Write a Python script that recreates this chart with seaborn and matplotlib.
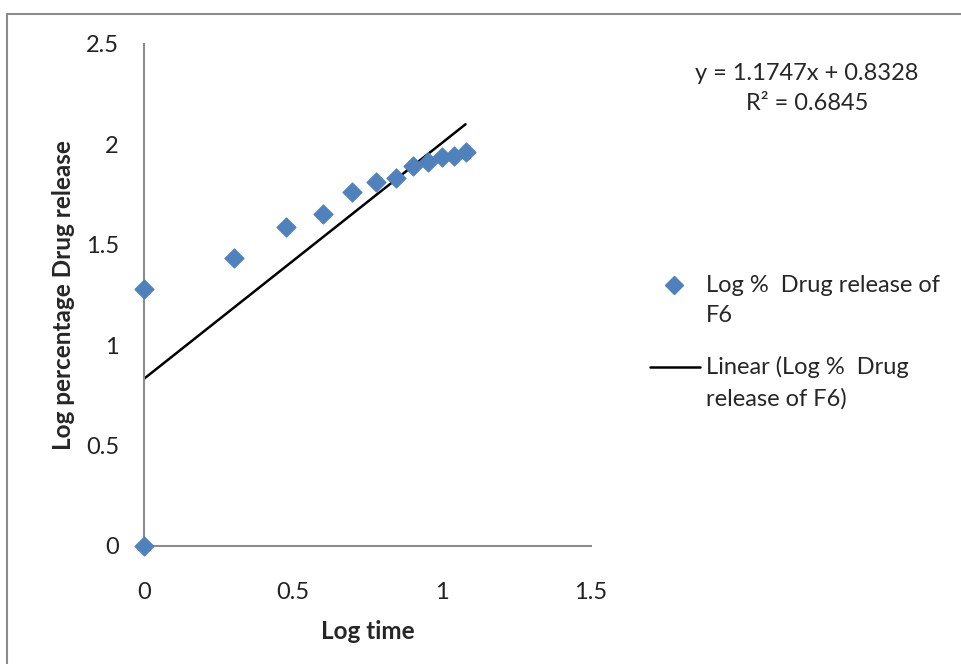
import matplotlib
matplotlib.use("Agg")
import matplotlib.pyplot as plt
import numpy as np
import pandas as pd
import seaborn as sns
from matplotlib.patches import Rectangle
from matplotlib.lines import Line2D

# valores
log_time = [0, 0, 0.301, 0.477, 0.602, 0.699, 0.778, 0.845, 0.903, 0.954, 1.0, 1.041, 1.079]
log_release = [0, 1.28, 1.434, 1.589, 1.653, 1.763, 1.813, 1.833, 1.892, 1.912, 1.937, 1.942, 1.962]
slope = 1.1747
intercept = 0.8328
r2 = 0.6845

x_ticks = [0, 0.5, 1, 1.5]
y_ticks = [0, 0.5, 1, 1.5, 2, 2.5]

serie = "Log %  Drug release of\nF6"
linha = "Linear (Log %  Drug\nrelease of F6)"

azul = "#4F81BD"
cinza = "#8c8c8c"

dados = pd.DataFrame({"x": log_time, "y": log_release})
xs = np.array([min(log_time), max(log_time)])
tendencia = pd.DataFrame({"x": xs, "y": slope * xs + intercept})

sns.set_style("white")
plt.rcParams["font.family"] = ["Lato", "DejaVu Sans"]

fig = plt.figure(figsize=(9.62, 6.64), dpi=100)
ax = fig.add_axes([144 / 962, 118 / 664, 447 / 962, 502 / 664])

# moldura do grafico (estilo excel)
fig.patches.append(Rectangle((7 / 962, -0.1), 1.2, (650 / 664) + 0.1, transform=fig.transFigure,
                             fill=False, edgecolor=cinza, linewidth=1.5))

sns.lineplot(data=tendencia, x="x", y="y", color="black", linewidth=1.8, ax=ax, zorder=2)
sns.scatterplot(data=dados, x="x", y="y", marker="D", s=95, color=azul, edgecolor=azul,
                ax=ax, zorder=3, clip_on=False)

ax.set_xlim(0, 1.5)
ax.set_ylim(0, 2.5)
ax.set_xticks(x_ticks)
ax.set_yticks(y_ticks)
ax.set_xticklabels(["0", "0.5", "1", "1.5"])
ax.set_yticklabels(["0", "0.5", "1", "1.5", "2", "2.5"])
ax.tick_params(axis="both", length=0, labelsize=17, colors="#222222")
ax.tick_params(axis="x", pad=26)
ax.tick_params(axis="y", pad=18)

for s in ["top", "right"]:
    ax.spines[s].set_visible(False)
for s in ["left", "bottom"]:
    ax.spines[s].set_color(cinza)
    ax.spines[s].set_linewidth(1.5)

ax.set_xlabel("Log time", fontsize=17.5, fontweight="bold", labelpad=12)
ax.set_ylabel("Log percentage Drug release", fontsize=17.5, fontweight="bold", labelpad=8)

fig.text(807 / 962, 1 - 73 / 664, f"y = {slope}x + {intercept}", ha="center", va="center", fontsize=17)
fig.text(807 / 962, 1 - 104 / 664, f"R² = {r2}", ha="center", va="center", fontsize=17)

# legenda desenhada a mao (marcador alinhado com a primeira linha do texto)
fig.lines.append(Line2D([674 / 962], [1 - 285 / 664], marker="D", markersize=9.5, color=azul,
                        linestyle="none", transform=fig.transFigure))
fig.lines.append(Line2D([650 / 962, 700 / 962], [1 - 367 / 664] * 2, color="black", linewidth=1.8,
                        transform=fig.transFigure))
fig.text(706 / 962, 1 - 275 / 664, serie, ha="left", va="top", fontsize=17, linespacing=1.55)
fig.text(706 / 962, 1 - 356 / 664, linha, ha="left", va="top", fontsize=17, linespacing=1.55)

fig.savefig("out.png", dpi=100)
